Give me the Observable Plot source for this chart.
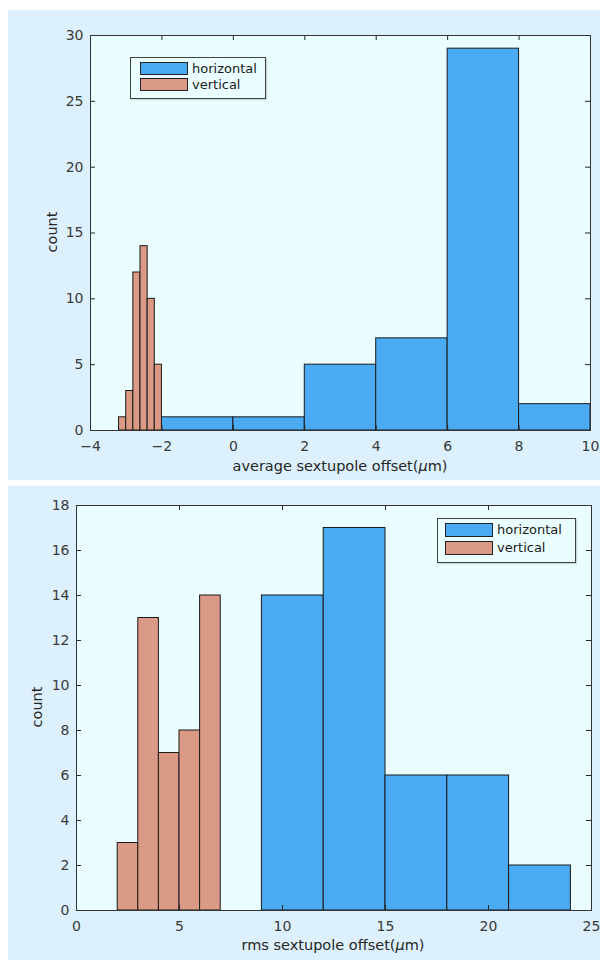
<!DOCTYPE html>
<html>
<head>
<meta charset="utf-8">
<script src="https://cdn.jsdelivr.net/npm/d3@7"></script>
<script src="https://cdn.jsdelivr.net/npm/@observablehq/plot@0.6"></script>
<style>
  body { margin: 0; background: #ffffff; font-family: "DejaVu Sans", sans-serif; }
  #wrap { position: relative; width: 600px; height: 960px; overflow: hidden; }
  .panel { position: absolute; background: #DCF0FD; }
  .panel svg { position: absolute; left: 0; top: 0; }
  .xlabel, .ylabel { position: absolute; font-size: 14.5px; color: #262626; white-space: nowrap; }
  .xlabel { transform: translate(-50%, -50%); }
  .ylabel { transform: translate(-50%, -50%) rotate(-90deg); }
  .legend { position: absolute; border: 1px solid #404040; background: #EAFEFF; box-shadow: 1px 1px 1px rgba(0,0,0,0.15); font-size: 13px; color: #1a1a1a; }
  .legend .row { position: absolute; left: 0; display: flex; align-items: center; }
  .legend .sw { display: inline-block; border: 1px solid #222; margin-right: 4px; }
</style>
</head>
<body>
<div id="wrap">
  <div class="panel" id="p1" style="left:8px;top:10px;width:592px;height:470px;"></div>
  <div class="panel" id="p2" style="left:8px;top:486px;width:592px;height:474px;"></div>
</div>
<script>
// ---- data ----
const seriesNames = ["horizontal", "vertical"];
const seriesColors = ["#4AABF2", "#DB9A86"];

// Top: average sextupole offset (μm)
const avgHorizEdges = [-2, 0, 2, 4, 6, 8, 10];
const avgHorizCounts = [1, 1, 5, 7, 29, 2];
const avgVertEdges = [-3.2, -3.0, -2.8, -2.6, -2.4, -2.2, -2.0];
const avgVertCounts = [1, 3, 12, 14, 10, 5];
const avgXTicks = [-4, -2, 0, 2, 4, 6, 8, 10];
const avgYTicks = [0, 5, 10, 15, 20, 25, 30];

// Bottom: rms sextupole offset (μm)
const rmsHorizEdges = [9, 12, 15, 18, 21, 24];
const rmsHorizCounts = [14, 17, 6, 6, 2];
const rmsVertEdges = [2, 3, 4, 5, 6, 7];
const rmsVertCounts = [3, 13, 7, 8, 14];
const rmsXTicks = [0, 5, 10, 15, 20, 25];
const rmsYTicks = [0, 2, 4, 6, 8, 10, 12, 14, 16, 18];

function bins(edges, counts) {
  return counts.map((c, i) => ({x1: edges[i], x2: edges[i + 1], count: c}));
}

function makeChart(cfg) {
  const innerW = cfg.width - cfg.marginLeft - cfg.marginRight;
  const innerH = cfg.height - cfg.marginTop - cfg.marginBottom;
  const tick = 5;
  const barStyle = {stroke: "#1a1a1a", strokeWidth: 1};
  return Plot.plot({
    width: cfg.width,
    height: cfg.height,
    marginLeft: cfg.marginLeft,
    marginRight: cfg.marginRight,
    marginTop: cfg.marginTop,
    marginBottom: cfg.marginBottom,
    style: {background: "transparent", fontFamily: "DejaVu Sans, sans-serif", fontSize: "14px", overflow: "visible"},
    x: {domain: [cfg.xTicks[0], cfg.xTicks[cfg.xTicks.length - 1]], axis: null},
    y: {domain: [cfg.yTicks[0], cfg.yTicks[cfg.yTicks.length - 1]], axis: null},
    marks: [
      Plot.frame({fill: "#EAFEFF", stroke: null}),
      Plot.rectY(cfg.horiz, {x1: "x1", x2: "x2", y: "count", fill: seriesColors[0], ...barStyle}),
      Plot.rectY(cfg.vert, {x1: "x1", x2: "x2", y: "count", fill: seriesColors[1], ...barStyle}),
      // inward ticks on all four sides
      Plot.ruleX(cfg.xTicks, {x: d => d, insetTop: innerH - tick, stroke: "#262626"}),
      Plot.ruleX(cfg.xTicks, {x: d => d, insetBottom: innerH - tick, stroke: "#262626"}),
      Plot.ruleY(cfg.yTicks, {y: d => d, insetRight: innerW - tick, stroke: "#262626"}),
      Plot.ruleY(cfg.yTicks, {y: d => d, insetLeft: innerW - tick, stroke: "#262626"}),
      Plot.axisX(cfg.xTicks, {anchor: "bottom", tickSize: 0, tickPadding: 11, label: null, fill: "#3a3a3a", fontSize: 14}),
      Plot.axisY(cfg.yTicks, {anchor: "left", tickSize: 0, tickPadding: 7, label: null, fill: "#3a3a3a", fontSize: 14}),
      Plot.frame({stroke: "#333", strokeWidth: 1})
    ]
  });
}

function addLegend(panel, box) {
  const lg = document.createElement("div");
  lg.className = "legend";
  Object.assign(lg.style, {left: box.left + "px", top: box.top + "px", width: box.w + "px", height: box.h + "px"});
  seriesNames.forEach((name, i) => {
    const row = document.createElement("div");
    row.className = "row";
    row.style.left = box.swLeft + "px";
    row.style.top = (box.rowTop + i * box.rowGap) + "px";
    const sw = document.createElement("span");
    sw.className = "sw";
    Object.assign(sw.style, {width: box.swW + "px", height: box.swH + "px", background: seriesColors[i]});
    const t = document.createElement("span");
    t.textContent = name;
    row.appendChild(sw);
    row.appendChild(t);
    lg.appendChild(row);
  });
  panel.appendChild(lg);
}

function addLabels(panel, xl, yl) {
  const x = document.createElement("div");
  x.className = "xlabel";
  x.innerHTML = xl.text + "(<i>μ</i>m)";
  Object.assign(x.style, {left: xl.x + "px", top: xl.y + "px"});
  const y = document.createElement("div");
  y.className = "ylabel";
  y.textContent = "count";
  Object.assign(y.style, {left: yl.x + "px", top: yl.y + "px"});
  panel.appendChild(x);
  panel.appendChild(y);
}

// ---- top panel ----
const p1 = document.getElementById("p1");
p1.appendChild(makeChart({
  width: 592, height: 470, marginLeft: 82, marginRight: 10, marginTop: 25, marginBottom: 50,
  xTicks: avgXTicks, yTicks: avgYTicks,
  horiz: bins(avgHorizEdges, avgHorizCounts), vert: bins(avgVertEdges, avgVertCounts)
}));
addLabels(p1, {text: "average sextupole offset", x: 332, y: 456}, {x: 44, y: 222});
addLegend(p1, {left: 122, top: 47, w: 134, h: 40, swLeft: 9, rowTop: 3, rowGap: 16, swW: 46, swH: 11});

// ---- bottom panel ----
const p2 = document.getElementById("p2");
p2.appendChild(makeChart({
  width: 592, height: 474, marginLeft: 68, marginRight: 9, marginTop: 19, marginBottom: 50,
  xTicks: rmsXTicks, yTicks: rmsYTicks,
  horiz: bins(rmsHorizEdges, rmsHorizCounts), vert: bins(rmsVertEdges, rmsVertCounts)
}));
addLabels(p2, {text: "rms sextupole offset", x: 325, y: 459}, {x: 29, y: 221});
addLegend(p2, {left: 429, top: 32, w: 137, h: 43, swLeft: 7, rowTop: 3, rowGap: 18, swW: 46, swH: 12});
</script>
</body>
</html>
